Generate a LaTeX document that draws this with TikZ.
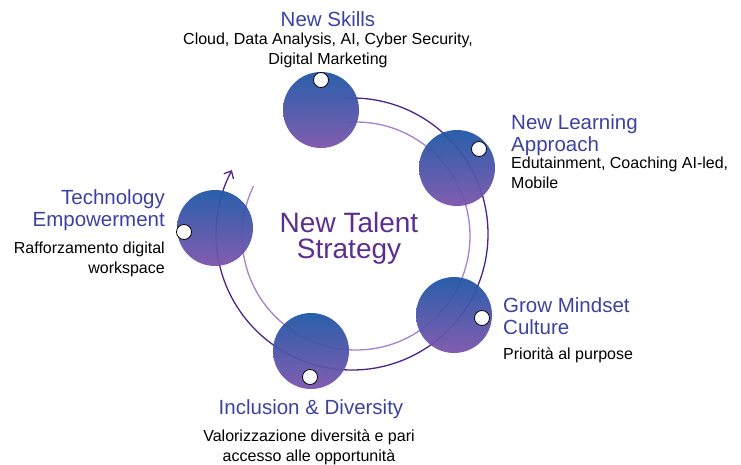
\documentclass[tikz,border=0pt]{standalone}
\usepackage{fontspec}
\setmainfont{Liberation Sans}
\usetikzlibrary{arrows.meta}

\definecolor{titleblue}{RGB}{60,66,162}
\definecolor{talentpurple}{RGB}{92,46,146}
\definecolor{balltop}{RGB}{30,86,166}
\definecolor{ballbottom}{RGB}{124,84,172}
\definecolor{outerarc}{RGB}{76,36,140}
\definecolor{innerarc}{RGB}{165,128,205}

\begin{document}
\begin{tikzpicture}[x=1pt, y=-1pt,
    ball/.style={circle, minimum size=76pt, inner sep=0pt, top color=balltop, bottom color=ballbottom, fill opacity=0.95},
    hole/.style={circle, minimum size=15pt, inner sep=0pt, draw=black, line width=0.8pt, fill=white},
    heading/.style={inner sep=0pt, text=titleblue, font=\fontsize{20.5}{22.5}\selectfont},
    desc/.style={inner sep=0pt, font=\fontsize{16}{19.5}\selectfont}]
    \useasboundingbox (0,0) rectangle (741,464);

    % Cycle arcs
    \coordinate (outerc) at (352,234);
    \coordinate (innerc) at (356,236);
    \draw[innerarc, line width=1.3pt] ([shift={(94.5:114pt)}]innerc) arc[start angle=94.5, end angle=-206, radius=114pt];
    \draw[outerarc, line width=1.3pt, -{Straight Barb[length=6pt, width=11pt, line width=1.3pt]}]
        ([shift={(93:136pt)}]outerc) arc[start angle=93, end angle=-208, radius=136pt];

    % Balls
    \node[ball] (skills) at (321,110) {};
    \node[ball] (learning) at (457,168) {};
    \node[ball] (mindset) at (454,315) {};
    \node[ball] (inclusion) at (311,351) {};
    \node[ball] (technology) at (215,228) {};

    % Holes
    \node[hole] (skillsH) at (321,80) {};
    \node[hole] (learningH) at (479,149) {};
    \node[hole] (mindsetH) at (482,318) {};
    \node[hole] (inclusionH) at (310,377) {};
    \node[hole] (technologyH) at (184,232) {};

    % Centre
    \node[anchor=north, align=center, inner sep=0pt, text=talentpurple, font=\fontsize{28}{26}\selectfont] (talent) at (349,212) {New Talent\\Strategy};

    % Labels
    \node[heading, anchor=north] (skillsT) at (328,11) {New Skills};
    \node[desc, anchor=north, align=center] (skillsD) at (328,33) {Cloud, Data Analysis, AI, Cyber Security,\\Digital Marketing};

    \node[heading, anchor=north west, align=left] (learningT) at (511,114) {New Learning\\Approach};
    \node[desc, anchor=north west, align=left] (learningD) at (511,157) {Edutainment, Coaching AI-led,\\Mobile};

    \node[heading, anchor=north west, align=left] (mindsetT) at (503,297) {Grow Mindset\\Culture};
    \node[desc, anchor=north west] (mindsetD) at (503,348) {Priorità al purpose};

    \node[heading, anchor=north] (inclusionT) at (311,399) {Inclusion \& Diversity};
    \node[desc, anchor=north, align=center] (inclusionD) at (309,430) {Valorizzazione diversità e pari\\accesso alle opportunità};

    \node[heading, anchor=north east, align=right] (technologyT) at (165,189) {Technology\\Empowerment};
    \node[desc, anchor=north east, align=right] (technologyD) at (165,242) {Rafforzamento digital\\workspace};
\end{tikzpicture}
\end{document}
